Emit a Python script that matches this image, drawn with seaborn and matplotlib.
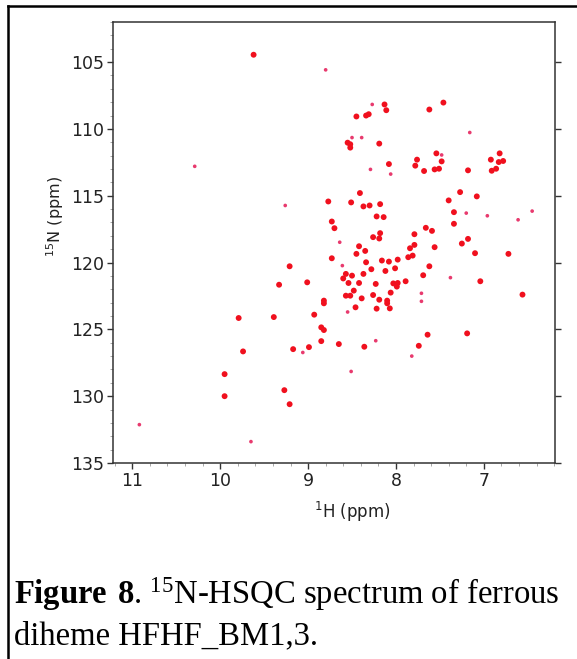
import matplotlib
matplotlib.use("Agg")
import matplotlib.pyplot as plt
from matplotlib.lines import Line2D
from matplotlib.ticker import MultipleLocator
import numpy as np
import pandas as pd
import seaborn as sns

# Cross-peak positions (1H ppm, 15N ppm)
strong_h = [9.62, 8.13, 8.11, 8.45, 8.34, 8.31, 7.62, 7.46, 8.55, 8.52,
            8.52, 8.19, 7.54, 7.48, 7.76, 7.78, 7.68, 7.56, 7.51, 8.08,
            7.18, 6.82, 6.92, 6.83, 6.78, 6.91, 6.86, 8.41, 8.77, 8.51,
            8.37, 8.30, 8.18, 8.22, 8.14, 8.73, 8.70, 8.26, 8.19, 8.18,
            8.42, 8.35, 8.45, 8.73, 8.34, 8.16, 8.08, 7.98, 8.28, 8.12,
            8.01, 8.37, 8.57, 8.50, 7.79, 7.84, 7.79, 7.81, 7.86, 7.66,
            7.59, 7.56, 7.62, 7.69, 7.40, 7.27, 7.08, 7.34, 7.34, 7.25,
            7.18, 7.10, 6.72, 9.01, 8.60, 8.54, 8.42, 8.23, 8.03, 7.98,
            7.99, 7.89, 7.04, 6.56, 8.48, 8.57, 8.52, 8.39, 8.26, 8.19,
            8.10, 8.10, 8.06, 8.82, 8.82, 8.93, 8.46, 8.22, 8.07, 8.85,
            8.82, 8.85, 8.65, 8.36, 9.17, 8.99, 7.74, 7.64, 7.19, 9.21,
            9.33, 9.79, 9.39, 9.74, 9.95, 9.95, 9.27, 9.21]
strong_n = [104.45, 108.17, 108.60, 109.07, 109.00, 108.90, 108.55, 108.03, 111.03, 111.15,
            111.40, 111.10, 111.83, 112.43, 112.30, 112.75, 113.15, 113.03, 112.98, 112.63,
            113.10, 111.83, 112.30, 112.48, 112.40, 113.13, 112.98, 114.80, 115.43, 115.50,
            115.80, 115.73, 115.63, 116.55, 116.60, 116.93, 117.43, 118.10, 118.20, 117.80,
            118.78, 119.13, 119.35, 119.68, 119.98, 119.85, 119.93, 119.78, 120.50, 120.63,
            120.43, 120.85, 120.85, 120.98, 117.88, 118.93, 118.68, 119.48, 119.60, 117.40,
            117.63, 118.85, 120.28, 120.95, 115.35, 114.73, 115.05, 116.23, 117.10, 118.58,
            118.23, 119.30, 119.35, 121.48, 121.19, 121.53, 121.53, 121.60, 121.56, 121.53,
            121.80, 121.40, 121.40, 122.40, 122.10, 122.48, 122.48, 122.68, 122.43, 122.78,
            122.85, 123.05, 122.25, 122.85, 123.05, 123.90, 123.35, 123.45, 123.43, 124.85,
            125.05, 125.88, 126.10, 126.30, 126.48, 126.33, 126.23, 125.40, 125.30, 120.28,
            121.66, 124.15, 124.08, 126.65, 128.35, 130.00, 129.55, 130.60]

weak_h = [8.27, 7.16, 8.50, 8.39, 7.48, 8.29, 8.06, 8.64, 8.61, 7.20,
          6.96, 6.61, 6.45, 7.38, 7.71, 7.71, 8.55, 8.23, 9.06, 8.51,
          7.82, 9.26, 9.65, 8.80, 10.29, 10.92]
weak_n = [108.17, 110.27, 110.65, 110.65, 111.95, 113.03, 113.38, 118.48, 120.23, 116.30,
          116.50, 116.80, 116.15, 121.13, 122.30, 122.90, 123.70, 125.85, 126.73, 128.15,
          127.00, 115.73, 133.40, 105.58, 112.80, 132.13]

x_ticks = [11, 10, 9, 8, 7]
y_ticks = [105, 110, 115, 120, 125, 130, 135]

peaks = pd.DataFrame({
    "H": strong_h + weak_h,
    "N": strong_n + weak_n,
    "kind": ["strong"] * len(strong_h) + ["weak"] * len(weak_h),
})

W, H = 577, 659
fig = plt.figure(figsize=(W / 100, H / 100), dpi=100)
fig.patch.set_facecolor("white")

# page frame around the figure block
fig.add_artist(Line2D([8 / W, 1.0], [1 - 6 / H, 1 - 6 / H], color="black", lw=1.8))
fig.add_artist(Line2D([8 / W, 8 / W], [0.0, 1 - 6 / H], color="black", lw=1.8))

ax = fig.add_axes([113 / W, 1 - 463 / H, (555 - 113) / W, (463 - 22) / H])
sns.scatterplot(data=peaks, x="H", y="N", hue="kind", size="kind",
                sizes={"strong": 18, "weak": 7},
                palette={"strong": "#f0101e", "weak": "#e83a6e"},
                linewidth=0, legend=False, ax=ax, zorder=3)

ax.set_xlim(11.22, 6.19)
ax.set_ylim(135, 102)
ax.set_xticks(x_ticks)
ax.set_yticks(y_ticks)
ax.xaxis.set_minor_locator(MultipleLocator(0.2))
ax.yaxis.set_minor_locator(MultipleLocator(1))

tick_font = dict(family="DejaVu Sans", size=12.5)
ax.set_xticklabels([str(v) for v in x_ticks], **tick_font, color="#222222")
ax.set_yticklabels([str(v) for v in y_ticks], **tick_font, color="#222222")
ax.tick_params(which="major", length=4.5, width=1.0, color="#333333", pad=2, direction="out")
ax.tick_params(which="minor", length=2.2, width=0.6, color="#999999", direction="out")
ax.tick_params(axis="y", which="major", right=True, labelright=False)

for s in ax.spines.values():
    s.set_color("#333333")
    s.set_linewidth(1.1)

ax.set_xlabel("")
ax.set_ylabel("")
fig.text(352 / W, 1 - 512 / H, r"$^{1}$H (ppm)", ha="center", va="center",
         family="DejaVu Sans", size=12, color="#222222", math_fontfamily="dejavusans")
fig.text(55 / W, 1 - 217 / H, r"$^{15}$N (ppm)", ha="center", va="center", rotation=90,
         family="DejaVu Sans", size=11.5, color="#222222", math_fontfamily="dejavusans")

# caption
plt.rcParams["mathtext.fontset"] = "custom"
plt.rcParams["mathtext.rm"] = "Liberation Serif"
plt.rcParams["mathtext.bf"] = "Liberation Serif:bold"
plt.rcParams["mathtext.default"] = "rm"
cap = dict(family="Liberation Serif", size=23.5, color="black", ha="left",
           va="baseline", math_fontfamily="custom")
fig.text(14 / W, 1 - 604 / H, r"$\mathbf{Figure\ 8}$. $^{15}$N-HSQC spectrum of ferrous", **cap)
fig.text(14 / W, 1 - 644 / H, "diheme HFHF_BM1,3.", **cap)

fig.savefig("out.png", dpi=100, facecolor="white")
